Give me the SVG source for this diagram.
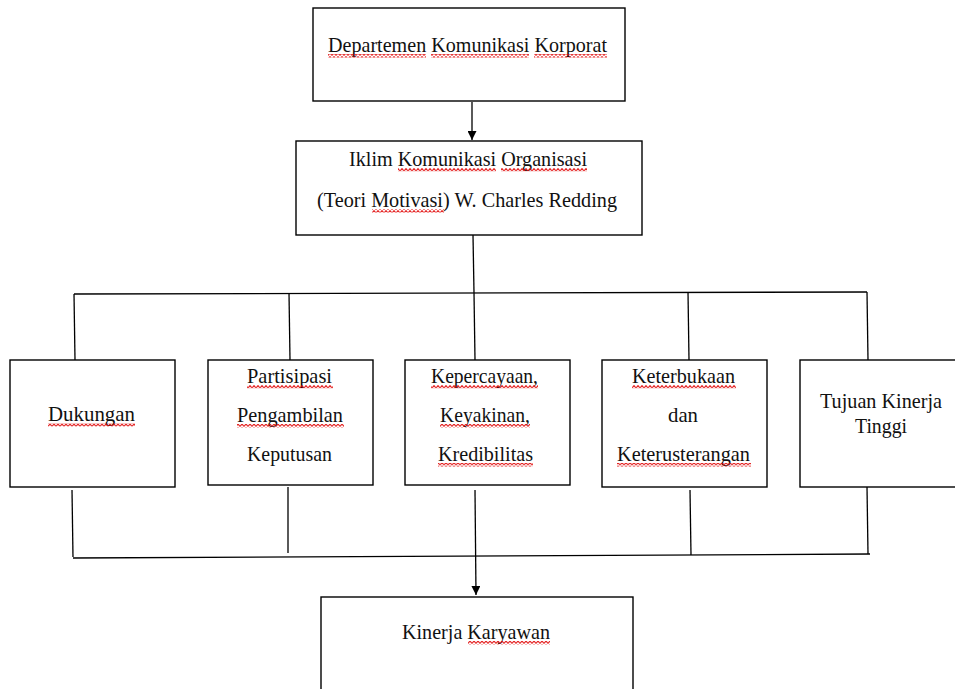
<svg xmlns="http://www.w3.org/2000/svg" width="955" height="689" viewBox="0 0 955 689">
<style>
.box{fill:#fff;stroke:#000;stroke-width:1.4}
.ln{fill:none;stroke:#000;stroke-width:1.3}
.t{font-family:"Liberation Serif","Times New Roman",serif;font-size:22px;fill:#111}
.sq{fill:url(#wave)}
</style>
<defs>
<pattern id="wave" patternUnits="userSpaceOnUse" width="4" height="3.5">
<path d="M0,3 L2,0.6 L4,3" fill="none" stroke="#e00000" stroke-width="1"/>
</pattern>
<marker id="arr" viewBox="0 0 10 10" refX="10" refY="5" markerWidth="9" markerHeight="9" orient="auto" markerUnits="userSpaceOnUse">
<path d="M0,0 L10,5 L0,10 z" fill="#000"/>
</marker>
</defs>
<rect width="955" height="689" fill="#fff"/>

<g id="connectors">
<line class="ln" x1="472" y1="102" x2="472" y2="140" marker-end="url(#arr)"/>
<line class="ln" x1="473" y1="235" x2="474" y2="293"/>
<line class="ln" x1="74" y1="294" x2="867" y2="292"/>
<line class="ln" x1="74" y1="294" x2="75" y2="360"/>
<line class="ln" x1="289" y1="293" x2="290" y2="360"/>
<line class="ln" x1="474" y1="293" x2="475" y2="360"/>
<line class="ln" x1="688" y1="292" x2="689" y2="360"/>
<line class="ln" x1="867" y1="292" x2="868" y2="360"/>
<line class="ln" x1="72" y1="490" x2="73" y2="557"/>
<line class="ln" x1="288" y1="487" x2="288" y2="553"/>
<line class="ln" x1="690" y1="490" x2="691" y2="555"/>
<line class="ln" x1="867" y1="487" x2="868" y2="554"/>
<line class="ln" x1="73" y1="558" x2="870" y2="554"/>
<line class="ln" x1="475" y1="490" x2="476" y2="595" marker-end="url(#arr)"/>
</g>

<g id="n-dept">
<rect class="box" x="313" y="8" width="312" height="93"/>
<text class="t" x="328" y="52" textLength="279" lengthAdjust="spacingAndGlyphs">Departemen Komunikasi Korporat</text>
<rect class="sq" x="328" y="54" width="98" height="3.5"/>
<rect class="sq" x="431" y="54" width="98" height="3.5"/>
<rect class="sq" x="534" y="54" width="73" height="3.5"/>
</g>

<g id="n-iklim">
<rect class="box" x="296" y="141" width="346" height="94"/>
<text class="t" x="349" y="166" textLength="238" lengthAdjust="spacingAndGlyphs">Iklim Komunikasi Organisasi</text>
<text class="t" x="317" y="207" textLength="300" lengthAdjust="spacingAndGlyphs">(Teori Motivasi) W. Charles Redding</text>
<rect class="sq" x="398" y="168" width="98" height="3.5"/>
<rect class="sq" x="501" y="168" width="86" height="3.5"/>
<rect class="sq" x="372" y="209" width="72" height="3.5"/>
</g>

<g id="n-dukungan">
<rect class="box" x="10" y="360" width="165" height="127"/>
<text class="t" x="48" y="421" textLength="87" lengthAdjust="spacingAndGlyphs">Dukungan</text>
<rect class="sq" x="48" y="423" width="87" height="3.5"/>
</g>

<g id="n-partisipasi">
<rect class="box" x="208" y="360" width="165" height="125"/>
<text class="t" x="247" y="383" textLength="85" lengthAdjust="spacingAndGlyphs">Partisipasi</text>
<text class="t" x="237" y="422" textLength="106" lengthAdjust="spacingAndGlyphs">Pengambilan</text>
<text class="t" x="247" y="461" textLength="85" lengthAdjust="spacingAndGlyphs">Keputusan</text>
<rect class="sq" x="247" y="385" width="86" height="3.5"/>
<rect class="sq" x="237" y="424" width="107" height="3.5"/>
</g>

<g id="n-kepercayaan">
<rect class="box" x="405" y="360" width="165" height="125"/>
<text class="t" x="431" y="383" textLength="107" lengthAdjust="spacingAndGlyphs">Kepercayaan,</text>
<text class="t" x="440" y="422" textLength="90" lengthAdjust="spacingAndGlyphs">Keyakinan,</text>
<text class="t" x="438" y="461" textLength="95" lengthAdjust="spacingAndGlyphs">Kredibilitas</text>
<rect class="sq" x="431" y="385" width="107" height="3.5"/>
<rect class="sq" x="440" y="424" width="90" height="3.5"/>
<rect class="sq" x="438" y="463" width="95" height="3.5"/>
</g>

<g id="n-keterbukaan">
<rect class="box" x="602" y="360" width="165" height="127"/>
<text class="t" x="632" y="383" textLength="103" lengthAdjust="spacingAndGlyphs">Keterbukaan</text>
<text class="t" x="668" y="422" textLength="30" lengthAdjust="spacingAndGlyphs">dan</text>
<text class="t" x="617" y="461" textLength="133" lengthAdjust="spacingAndGlyphs">Keterusterangan</text>
<rect class="sq" x="632" y="385" width="104" height="3.5"/>
<rect class="sq" x="617" y="463" width="134" height="3.5"/>
</g>

<g id="n-tujuan">
<rect class="box" x="800" y="360" width="165" height="127"/>
<text class="t" x="820" y="408" textLength="122" lengthAdjust="spacingAndGlyphs">Tujuan Kinerja</text>
<text class="t" x="855" y="433" textLength="52" lengthAdjust="spacingAndGlyphs">Tinggi</text>
</g>

<g id="n-kinerja">
<rect class="box" x="321" y="597" width="312" height="110"/>
<text class="t" x="402" y="639" textLength="148" lengthAdjust="spacingAndGlyphs">Kinerja Karyawan</text>
<rect class="sq" x="468" y="641" width="82" height="3.5"/>
</g>
</svg>
